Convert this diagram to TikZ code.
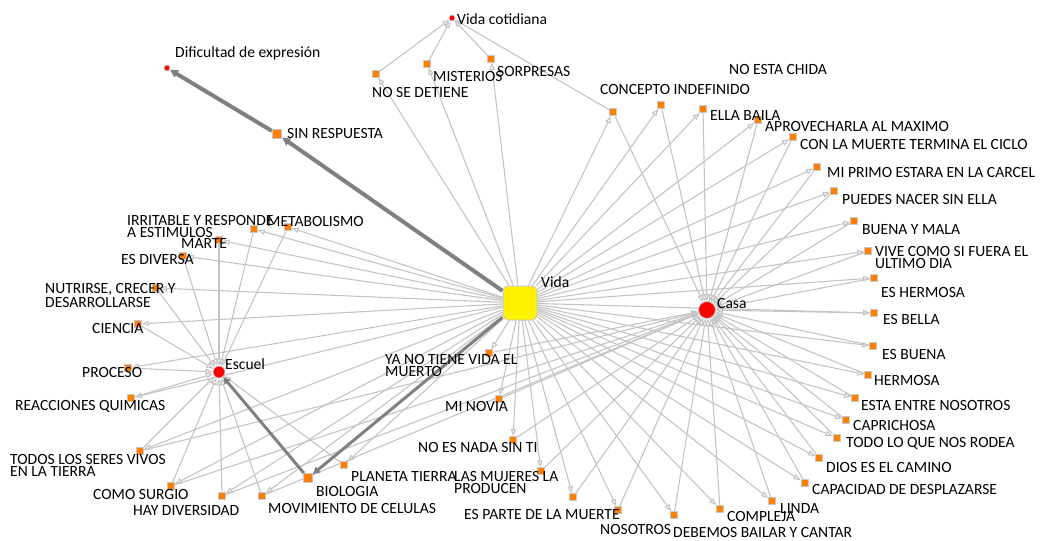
\documentclass[tikz,border=0pt]{standalone}
\usepackage{fontspec}
\setmainfont{Carlito}
\usetikzlibrary{arrows.meta}
\definecolor{edgegrey}{RGB}{196,196,196}
\definecolor{heavygrey}{RGB}{128,128,128}
\definecolor{leaforange}{RGB}{255,128,0}
\definecolor{rimgrey}{RGB}{200,200,200}
\pgfdeclarelayer{edges}
\pgfsetlayers{edges,main}
\tikzset{
  leaf/.style={rectangle, fill=leaforange, draw=rimgrey, line width=1.2pt, minimum size=6.5pt, inner sep=0pt},
  bigleaf/.style={leaf, minimum size=9pt},
  hub/.style={circle, fill=red, draw=rimgrey, line width=0.8pt, inner sep=0pt},
  core/.style={rectangle, rounded corners=5pt, fill=yellow, draw=rimgrey, line width=1pt, minimum size=34pt, inner sep=0pt},
  lbl/.style={anchor=base west, inner sep=0pt, align=left, font=\fontsize{15.6}{11.5}\selectfont},
  link/.style={draw=edgegrey, line width=1.1pt, -{Triangle[open, length=7pt, width=5.5pt]}},
  heavy/.style={draw=heavygrey, line width=4pt, -{Triangle[length=8pt, width=8pt]}},
  mid/.style={draw=heavygrey, line width=3pt, -{Triangle[length=7pt, width=7pt]}},
}
\begin{document}
\begin{tikzpicture}[x=1pt, y=-1pt]
\useasboundingbox (0,0) rectangle (1042,541);

% hubs
\node[core] (vida) at (520,303) {};
\node[hub, minimum size=17pt] (casa) at (707,310) {};
\node[hub, minimum size=12pt] (escuel) at (219,372) {};
\node[hub, minimum size=6pt] (cotid) at (452,18) {};
\node[hub, minimum size=6pt] (dific) at (167,68) {};
\node[bigleaf] (sinresp) at (277,134) {};

% concepts around Escuel
\node[leaf] (irritable) at (254,229) {};
\node[leaf] (metabolismo) at (288,227) {};
\node[leaf] (marte) at (219,240) {};
\node[leaf] (diversa) at (183,256) {};
\node[leaf] (nutrirse) at (156,288) {};
\node[leaf] (ciencia) at (138,324) {};
\node[leaf] (proceso) at (128,368) {};
\node[leaf] (reacciones) at (131,398) {};
\node[leaf] (todos) at (140,451) {};
\node[leaf] (surgio) at (171,486) {};
\node[leaf] (haydiv) at (222,496) {};
\node[leaf] (movimiento) at (262,496) {};
\node[leaf, minimum size=8.5pt] (biologia) at (308,478) {};
\node[leaf] (planeta) at (344,465) {};

% concepts around Casa
\node[leaf] (yanotiene) at (489,353) {};
\node[leaf] (novia) at (499,399) {};
\node[leaf] (nadasinti) at (513,440) {};
\node[leaf] (mujeres) at (541,471) {};
\node[leaf] (esparte) at (573,497) {};
\node[leaf] (nosotros) at (618,510) {};
\node[leaf] (debemos) at (674,515) {};
\node[leaf] (compleja) at (720,509) {};
\node[leaf] (linda) at (772,501) {};
\node[leaf, minimum size=7.5pt] (capacidad) at (805,483) {};
\node[leaf] (dios) at (819,458) {};
\node[leaf, minimum size=7.5pt] (rodea) at (837,438) {};
\node[leaf] (caprichosa) at (846,420) {};
\node[leaf] (entre) at (855,398) {};
\node[leaf] (hermosa) at (868,375) {};
\node[leaf] (esbuena) at (873,346) {};
\node[leaf] (esbella) at (874,313) {};
\node[leaf] (eshermosa) at (874,278) {};
\node[leaf] (vive) at (868,251) {};
\node[leaf] (buenamala) at (854,221) {};
\node[leaf] (puedes) at (834,191) {};
\node[leaf] (primo) at (817,167) {};
\node[leaf] (ciclo) at (793,137) {};
\node[leaf] (aprovechar) at (758,120) {};
\node[leaf] (ellabaila) at (703,109) {};
\node[leaf] (chida) at (661,105) {};
\node[leaf, minimum size=7.5pt] (concepto) at (613,112) {};

% concepts around Vida cotidiana
\node[leaf] (detiene) at (376,74) {};
\node[leaf] (misterios) at (427,64) {};
\node[leaf] (sorpresas) at (491,59) {};

% labels (base = baseline of the last line)
\node[lbl] (t-vida) at (541,287) {Vida};
\node[lbl] (t-casa) at (717,308) {Casa};
\node[lbl] (t-escuel) at (225,369) {Escuel};
\node[lbl] (t-cotid) at (457,24) {Vida cotidiana};
\node[lbl] (t-dific) at (175,57) {Dificultad de expresión};
\node[lbl] (t-sinresp) at (287,138) {SIN RESPUESTA};

\node[lbl] (t-irritable) at (127,237) {IRRITABLE Y RESPONDE\\A ESTIMULOS};
\node[lbl] (t-metabolismo) at (267,226) {METABOLISMO};
\node[lbl] (t-marte) at (181,248) {MARTE};
\node[lbl] (t-diversa) at (121,264) {ES DIVERSA};
\node[lbl] (t-nutrirse) at (45,307) {NUTRIRSE, CRECER Y\\DESARROLLARSE};
\node[lbl] (t-ciencia) at (92,333) {CIENCIA};
\node[lbl] (t-proceso) at (82,377) {PROCESO};
\node[lbl] (t-reacciones) at (15,410) {REACCIONES QUIMICAS};
\node[lbl] (t-todos) at (10,476) {TODOS LOS SERES VIVOS\\EN LA TIERRA};
\node[lbl] (t-surgio) at (93,499) {COMO SURGIO};
\node[lbl] (t-haydiv) at (133,515) {HAY DIVERSIDAD};
\node[lbl] (t-biologia) at (316,496) {BIOLOGIA};
\node[lbl] (t-movimiento) at (268,513) {MOVIMIENTO DE CELULAS};
\node[lbl] (t-planeta) at (351,481) {PLANETA TIERRA};

\node[lbl] (t-yanotiene) at (385,376) {YA NO TIENE VIDA EL\\MUERTO};
\node[lbl] (t-novia) at (445,411) {MI NOVIA};
\node[lbl] (t-nadasinti) at (418,452) {NO ES NADA SIN TI};
\node[lbl] (t-mujeres) at (454,493) {LAS MUJERES LA\\PRODUCEN};
\node[lbl] (t-esparte) at (464,519) {ES PARTE DE LA MUERTE};
\node[lbl] (t-nosotros) at (600,534) {NOSOTROS};
\node[lbl] (t-debemos) at (673,537) {DEBEMOS BAILAR Y CANTAR};
\node[lbl] (t-compleja) at (727,521) {COMPLEJA};
\node[lbl] (t-linda) at (780,513) {LINDA};
\node[lbl] (t-capacidad) at (812,494) {CAPACIDAD DE DESPLAZARSE};
\node[lbl] (t-dios) at (826,472) {DIOS ES EL CAMINO};
\node[lbl] (t-rodea) at (846,447) {TODO LO QUE NOS RODEA};
\node[lbl] (t-caprichosa) at (853,430) {CAPRICHOSA};
\node[lbl] (t-entre) at (861,410) {ESTA ENTRE NOSOTROS};
\node[lbl] (t-hermosa) at (874,385) {HERMOSA};
\node[lbl] (t-esbuena) at (882,359) {ES BUENA};
\node[lbl] (t-esbella) at (883,324) {ES BELLA};
\node[lbl] (t-eshermosa) at (881,297) {ES HERMOSA};
\node[lbl] (t-vive) at (875,268) {VIVE COMO SI FUERA EL\\ULTIMO DIA};
\node[lbl] (t-buenamala) at (862,234) {BUENA Y MALA};
\node[lbl] (t-puedes) at (842,204) {PUEDES NACER SIN ELLA};
\node[lbl] (t-primo) at (827,177) {MI PRIMO ESTARA EN LA CARCEL};
\node[lbl] (t-ciclo) at (800,149) {CON LA MUERTE TERMINA EL CICLO};
\node[lbl] (t-aprovechar) at (765,131) {APROVECHARLA AL MAXIMO};
\node[lbl] (t-ellabaila) at (710,120) {ELLA BAILA};
\node[lbl] (t-concepto) at (600,94) {CONCEPTO INDEFINIDO};
\node[lbl] (t-chida) at (729,74) {NO ESTA CHIDA};
\node[lbl] (t-sorpresas) at (497,76) {SORPRESAS};
\node[lbl] (t-misterios) at (433,81) {MISTERIOS};
\node[lbl] (t-detiene) at (372,97) {NO SE DETIENE};

\begin{pgfonlayer}{edges}
  % Vida to every concept
  \foreach \n in {irritable,metabolismo,marte,diversa,nutrirse,ciencia,proceso,reacciones,todos,surgio,haydiv,movimiento,planeta,
                  yanotiene,novia,nadasinti,mujeres,esparte,nosotros,debemos,compleja,linda,capacidad,dios,rodea,caprichosa,entre,
                  hermosa,esbuena,esbella,eshermosa,vive,buenamala,puedes,primo,ciclo,aprovechar,ellabaila,chida,concepto,
                  detiene,misterios,sorpresas}
    \draw[link] (vida) -- (\n);
  % concepts to Escuel
  \foreach \n in {irritable,metabolismo,marte,diversa,nutrirse,ciencia,proceso,reacciones,todos,surgio,haydiv,movimiento,planeta}
    \draw[link] (\n) -- (escuel);
  % concepts to Casa
  \foreach \n in {yanotiene,novia,nadasinti,mujeres,esparte,nosotros,debemos,compleja,linda,capacidad,dios,rodea,caprichosa,entre,
                  hermosa,esbuena,esbella,eshermosa,vive,buenamala,puedes,primo,ciclo,aprovechar,ellabaila,chida,concepto,
                  todos,surgio,haydiv,movimiento}
    \draw[link] (\n) -- (casa);
  % concepts to Vida cotidiana
  \foreach \n in {detiene,misterios,sorpresas,concepto}
    \draw[link] (\n) -- (cotid);
  % weighted links
  \draw[heavy] (vida) -- (sinresp);
  \draw[heavy] (sinresp) -- (dific);
  \draw[mid] (vida) -- (biologia);
  \draw[mid] (biologia) -- (escuel);
\end{pgfonlayer}
\end{tikzpicture}
\end{document}
